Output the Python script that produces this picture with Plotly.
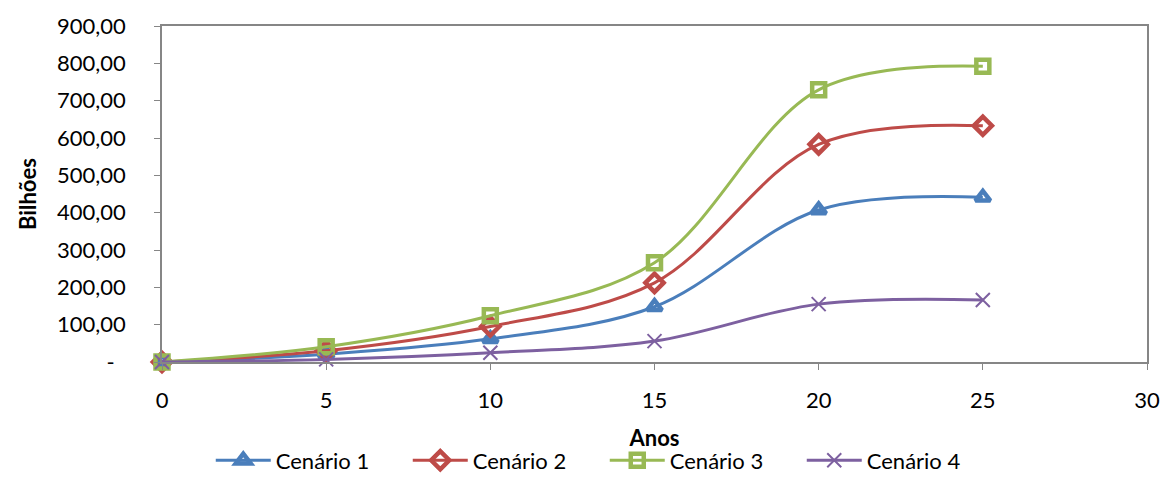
import plotly.graph_objects as go

anos = [0, 5, 10, 15, 20, 25]
cenario_1 = [0, 21, 62, 148, 407, 441]
cenario_2 = [0, 30, 95, 212, 583, 633]
cenario_3 = [0, 41, 124, 266, 729, 792]
cenario_4 = [0, 7, 25, 56, 155, 166]

nomes = ["Cenário 1", "Cenário 2", "Cenário 3", "Cenário 4"]
y_ticks = [0, 100, 200, 300, 400, 500, 600, 700, 800, 900]
y_labels = ["-\u00a0\u00a0", "100,00", "200,00", "300,00", "400,00", "500,00",
            "600,00", "700,00", "800,00", "900,00"]
x_ticks = [0, 5, 10, 15, 20, 25, 30]

series = [cenario_1, cenario_2, cenario_3, cenario_4]
cores = ["#4A7EBB", "#BE4B48", "#98B954", "#7D60A0"]
simbolos = ["triangle-up-open", "diamond-open", "square-open", "x-thin-open"]
tamanhos = [13, 14, 13, 14]
bordas = [4.5, 4.5, 4.5, 2]

FONT = "Lato"

fig = go.Figure()
for nome, vals, cor, sim, tam, lw in zip(nomes, series, cores, simbolos, tamanhos, bordas):
    fig.add_trace(go.Scatter(
        x=anos, y=vals, name=nome, mode="lines+markers",
        line=dict(color=cor, width=3, shape="spline", smoothing=1),
        marker=dict(symbol=sim, size=tam, color=cor, line=dict(color=cor, width=lw)),
        cliponaxis=False,
    ))

fig.update_layout(
    width=1163, height=477,
    margin=dict(l=162, r=16, t=26, b=115, autoexpand=False),
    plot_bgcolor="white", paper_bgcolor="white",
    font=dict(family=FONT, size=22, color="black"),
    showlegend=True,
    legend=dict(
        orientation="h", xref="container", yref="paper",
        x=0.52, xanchor="center", y=-0.293, yanchor="middle",
        font=dict(family=FONT, size=22),
        entrywidth=127, itemwidth=55, tracegroupgap=0,
    ),
    xaxis=dict(
        range=[0, 30], tickvals=x_ticks, ticks="outside", ticklen=6,
        tickcolor="#868686", showline=True, linecolor="#868686", linewidth=1.5,
        mirror=True, showgrid=False, zeroline=False, ticklabelstandoff=12,
        automargin=False,
        title=dict(text="<b>Anos</b>", standoff=18, font=dict(size=22)),
    ),
    yaxis=dict(
        range=[0, 900], tickvals=y_ticks, ticktext=y_labels, ticks="outside",
        ticklen=6, tickcolor="#868686", showline=True, linecolor="#868686",
        linewidth=1.5, mirror=True, showgrid=False, zeroline=False,
        ticklabelstandoff=24, automargin=False,
        title=dict(text="<b>Bilhões</b>", standoff=14, font=dict(size=22)),
    ),
)

fig.write_html("out.html")
